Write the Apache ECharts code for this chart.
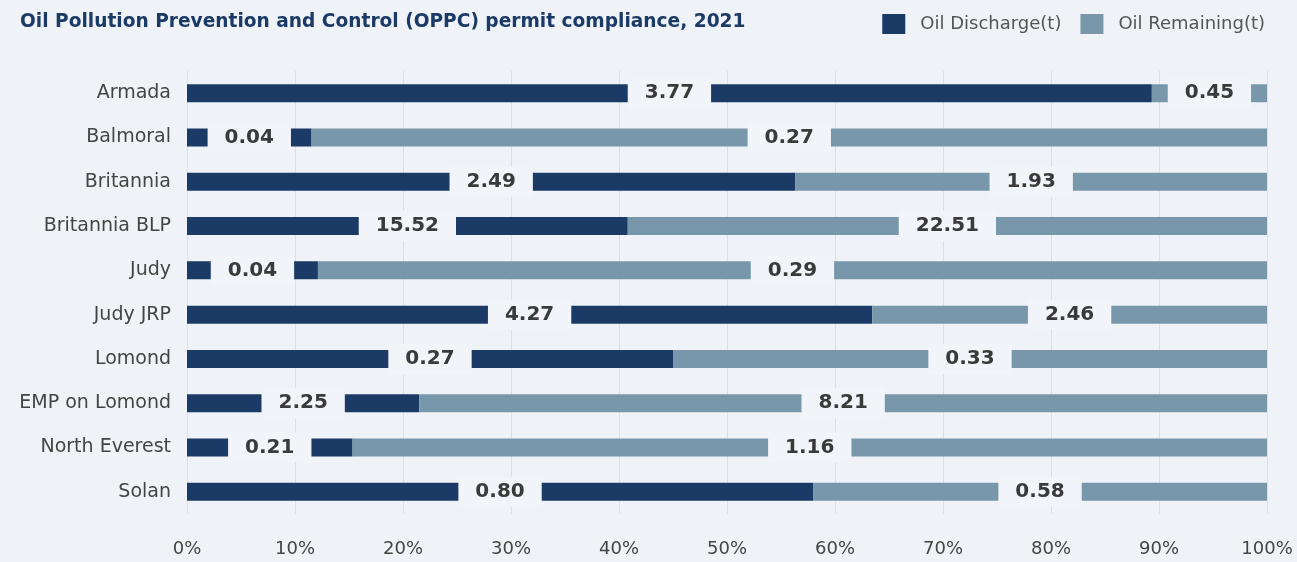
<!DOCTYPE html>
<html>
<head>
<meta charset="utf-8">
<script src="https://cdn.jsdelivr.net/npm/echarts@6/dist/echarts.min.js"></script>
<style>
html,body{margin:0;padding:0;background:#eff3f7;}
#chart{width:1297px;height:562px;}
</style>
</head>
<body>
<div id="chart"></div>
<script>
const categories = ['Armada','Balmoral','Britannia','Britannia BLP','Judy','Judy JRP','Lomond','EMP on Lomond','North Everest','Solan'];
const discharge = [3.77, 0.0352, 2.49, 15.52, 0.04, 4.27, 0.27, 2.25, 0.21, 0.80];
const remaining = [0.45, 0.27, 1.93, 22.51, 0.29, 2.46, 0.33, 8.21, 1.16, 0.58];
const ticks = [0,10,20,30,40,50,60,70,80,90,100];

const BG = '#eff3f7';
const DARK = '#1b3a66';
const LIGHT = '#7897ab';
const FONT = 'DejaVu Sans';

function shares(arr) {
  return arr.map((v, i) => ({ value: v / (discharge[i] + remaining[i]) * 100, raw: v }));
}

const labelCfg = {
  show: true,
  position: 'inside',
  formatter: p => p.data.raw.toFixed(2),
  fontFamily: FONT,
  fontWeight: 'bold',
  fontSize: 20,
  color: '#3a3a3a',
  backgroundColor: '#f1f4f8',
  padding: [6, 17, 4, 17]
};

const chart = echarts.init(document.getElementById('chart'));
chart.setOption({
  backgroundColor: BG,
  animation: false,
  title: {
    text: 'Oil Pollution Prevention and Control (OPPC) permit compliance, 2021',
    left: 15, top: 8,
    textStyle: { fontFamily: FONT, fontWeight: 'bold', fontSize: 18.6, color: DARK }
  },
  legend: {
    right: 27, top: 9,
    itemWidth: 23, itemHeight: 20, itemGap: 19,
    icon: 'rect',
    textStyle: { fontFamily: FONT, fontSize: 18, color: '#555', padding: [0,0,0,10] },
    data: ['Oil Discharge(t)', 'Oil Remaining(t)']
  },
  grid: { left: 187, right: 30, top: 71, bottom: 48 },
  xAxis: {
    type: 'value', min: ticks[0], max: ticks[ticks.length-1], interval: 10,
    axisLine: { show: false },
    axisTick: { show: false },
    splitLine: { show: true, lineStyle: { color: '#dcdfe3', width: 1 } },
    axisLabel: { formatter: '{value}%', fontFamily: FONT, fontSize: 18, color: '#444', margin: 26 }
  },
  yAxis: {
    type: 'category', data: categories, inverse: true,
    axisLine: { show: false },
    axisTick: { show: false },
    axisLabel: { fontFamily: FONT, fontSize: 19, color: '#444', margin: 16 }
  },
  series: [
    { name: 'Oil Discharge(t)', type: 'bar', stack: 'a', barWidth: 18,
      itemStyle: { color: DARK }, label: labelCfg, data: shares(discharge) },
    { name: 'Oil Remaining(t)', type: 'bar', stack: 'a', barWidth: 18,
      itemStyle: { color: LIGHT }, label: labelCfg, data: shares(remaining) }
  ]
});
</script>
</body>
</html>
